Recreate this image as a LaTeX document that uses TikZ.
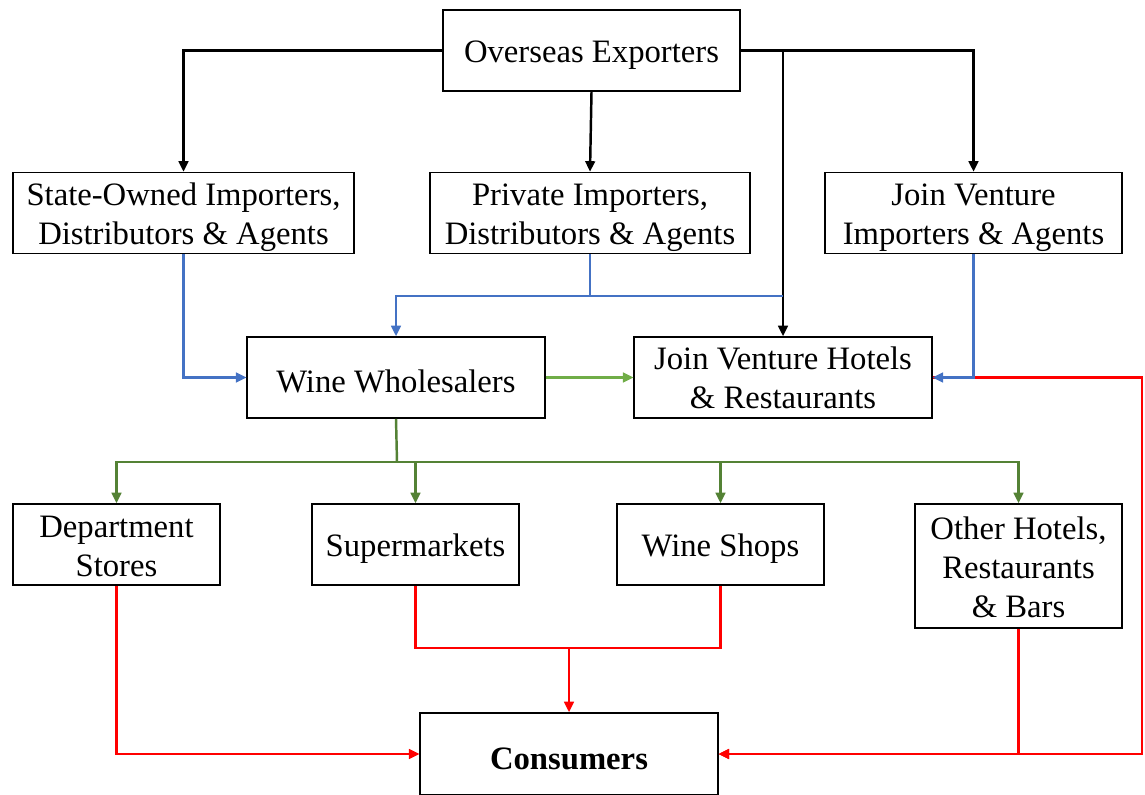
\documentclass[tikz,border=0pt]{standalone}
\usepackage{fontspec}
\setmainfont{Liberation Serif}
\usepackage{tikz}
\usetikzlibrary{arrows.meta,calc,positioning}
\definecolor{flowblue}{HTML}{4472C4}
\definecolor{flowlgreen}{HTML}{70AD47}
\definecolor{flowdgreen}{HTML}{548235}
\newcommand{\liftline}[1]{\rule{0pt}{#1}}
\tikzset{%
	wide/.style     = {draw, line width=0.9pt, rectangle, minimum width=5.95cm, minimum height=1.62cm, align=center, inner sep=0pt, execute at begin node={\rule{0pt}{17.8pt}}},
	narrow/.style   = {wide, minimum width=4.14cm},
	tip/.style      = {-{Triangle[length=6pt,width=5.5pt]}},
	blkline/.style  = {line width=1.4pt, black},
	bluline/.style  = {line width=1.4pt, flowblue},
	grnline/.style  = {line width=1.4pt, flowlgreen},
	dgrline/.style  = {line width=1.4pt, flowdgreen},
	redline/.style  = {line width=1.4pt, red},
}

\begin{document}
\begin{tikzpicture}[x=0.02cm,y=-0.02cm,font=\fontsize{18.6}{22.2}\selectfont]
	\useasboundingbox (0,0) rectangle (1145,794);
	% boxes
	\node[wide] (exporters) at (591.5,50.5) {Overseas Exporters};
	\node[wide,minimum width=6.82cm] (stateimp) at (183.5,213) {\liftline{18.2pt}State-Owned Importers,\\Distributors \& Agents};
	\node[wide,minimum width=6.4cm] (privimp) at (590,213) {\liftline{18.2pt}Private Importers,\\Distributors \& Agents};
	\node[wide] (jvimp) at (973.5,213) {\liftline{18.2pt}Join Venture\\Importers \& Agents};
	\node[wide] (wholesale) at (396,377.5) {Wine Wholesalers};
	\node[wide] (jvhotel) at (783,377.5) {Join Venture Hotels\\\& Restaurants};
	\node[narrow] (deptstore) at (116.5,544.5) {\liftline{14.7pt}Department\\Stores};
	\node[narrow] (supermkt) at (415.5,544.5) {Supermarkets};
	\node[narrow] (wineshop) at (720.5,544.5) {Wine Shops};
	\node[narrow,minimum height=2.48cm] (otherhotel) at (1018.5,566) {\liftline{14.7pt}Other Hotels,\\Restaurants\\\& Bars};
	\node[wide,minimum height=1.64cm] (consumers) at (569,754) {\textbf{Consumers}};
	% junction points
	\coordinate (jvtap) at (783,50.5);
	\coordinate (bluebus) at (590,296);
	\coordinate (grnbus) at (397,462);
	\coordinate (redbus) at (569,648);
	\coordinate (redright) at (1142,377.5);
	% black: exporters
	\draw[blkline,tip] (exporters.west) -| (stateimp.north);
	\draw[blkline,tip] (exporters.south) -- (privimp.north);
	\draw[blkline,tip] (exporters.east) -| (jvimp.north);
	\draw[blkline,tip] (jvtap) -- (jvhotel.north);
	% red: to consumers
	\draw[redline,tip] (jvhotel.east) -- (redright) |- (consumers.east);
	\draw[redline,tip] (otherhotel.south) |- (consumers.east);
	\draw[redline,tip] (deptstore.south) |- (consumers.west);
	\draw[redline] (supermkt.south) |- (wineshop.south |- redbus) -- (wineshop.south);
	\draw[redline,tip] (redbus) -- (consumers.north);
	% blue: importers
	\draw[bluline] (privimp.south) -- (bluebus) -- (bluebus -| jvtap);
	\draw[bluline,tip] (bluebus) -| (wholesale.north);
	\draw[bluline,tip] (stateimp.south) |- (wholesale.west);
	\draw[bluline,tip] (jvimp.south) |- (jvhotel.east);
	% green: wholesalers
	\draw[grnline,tip] (wholesale.east) -- (jvhotel.west);
	\draw[dgrline] (wholesale.south) -- (grnbus);
	\draw[dgrline,tip] (grnbus) -| (deptstore.north);
	\draw[dgrline,tip] (grnbus) -| (supermkt.north);
	\draw[dgrline,tip] (grnbus) -| (wineshop.north);
	\draw[dgrline,tip] (grnbus) -| (otherhotel.north);
\end{tikzpicture}
\end{document}
